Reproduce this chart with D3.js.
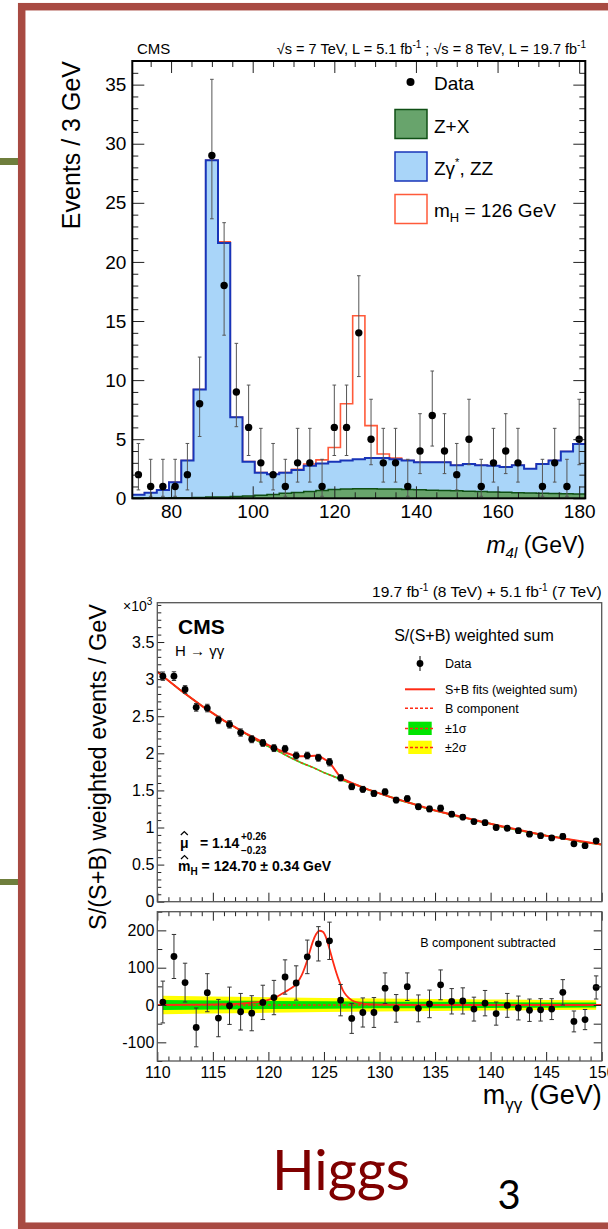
<!DOCTYPE html>
<html>
<head>
<meta charset="utf-8">
<script src="https://cdn.jsdelivr.net/npm/d3@7"></script>
<style>
  body { margin: 0; background: #fff; }
  svg { display: block; font-family: "Liberation Sans", Arial, Helvetica, sans-serif; }
</style>
</head>
<body>
<div id="chart"></div>
<script>
// ---------- H -> ZZ -> 4l (upper plot) ----------
var m4lCenters = [72, 75, 78, 81, 84, 87, 90, 93, 96, 99, 102, 105, 108, 111, 114, 117, 120, 123, 126,
  129, 132, 135, 138, 141, 144, 147, 150, 153, 156, 159, 162, 165, 168, 171, 174, 177, 180];
// stacked heights: Z+X, then Z+X + ZZ, then + signal (mH = 126)
var zxStack = [0.02, 0.02, 0.03, 0.04, 0.05, 0.07, 0.1, 0.12, 0.16, 0.2, 0.26, 0.33, 0.42, 0.5, 0.58, 0.66,
  0.74, 0.78, 0.8, 0.8, 0.79, 0.78, 0.75, 0.72, 0.69, 0.66, 0.63, 0.6, 0.57, 0.54, 0.51, 0.48, 0.45, 0.42,
  0.4, 0.38, 0.37];
var zzStack = [0.3, 0.47, 0.7, 1.35, 3.2, 9.2, 28.6, 21.6, 6.85, 3.1, 2.17, 2.03, 2.17, 2.4, 2.75, 2.95,
  3.1, 3.2, 3.3, 3.4, 3.4, 3.3, 3.2, 3.05, 3.05, 3.05, 2.8, 2.9, 2.8, 2.75, 2.65, 2.8, 2.5, 2.9, 3.2, 3.95, 4.6];
var higgsStack = [0.3, 0.47, 0.7, 1.35, 3.2, 9.2, 28.6, 21.7, 6.85, 3.1, 2.17, 2.03, 2.17, 2.45, 2.9, 3.25,
  4.3, 8.0, 15.45, 6.15, 3.75, 3.4, 3.2, 3.05, 3.05, 3.05, 2.8, 2.9, 2.8, 2.75, 2.65, 2.8, 2.5, 2.9, 3.2, 3.95, 4.6];
var zzData = [2, 1, 1, 1, 2, 8, 29, 18, 9, 6, 3, 2, 1, 3, 3, 1, 6, 6, 14, 5, 3, 3, 1, 4, 7, 4, 2, 5, 1, 3, 4, 3,
  null, 1, 3, 1, 5];
// 68% Poisson intervals for the observed counts
var poissonLo = { 1: 0.17, 2: 0.71, 3: 1.37, 4: 2.09, 5: 2.84, 6: 3.62, 7: 4.42, 8: 5.23, 9: 6.06, 14: 10.3, 18: 13.8, 29: 23.65 };
var poissonHi = { 1: 3.3, 2: 4.64, 3: 5.92, 4: 7.16, 5: 8.38, 6: 9.58, 7: 10.77, 8: 11.95, 9: 13.11, 14: 18.83, 18: 23.32, 29: 35.45 };
var m4lTicks = [80, 100, 120, 140, 160, 180];
var eventTicks = [0, 5, 10, 15, 20, 25, 30, 35];

// ---------- H -> gamma gamma (lower plot) ----------
var ggMass = [110.5, 111.5, 112.5, 113.5, 114.5, 115.5, 116.5, 117.5, 118.5, 119.5, 120.5, 121.5, 122.5, 123.5,
  124.5, 125.5, 126.5, 127.5, 128.5, 129.5, 130.5, 131.5, 132.5, 133.5, 134.5, 135.5, 136.5, 137.5, 138.5, 139.5,
  140.5, 141.5, 142.5, 143.5, 144.5, 145.5, 146.5, 147.5, 148.5, 149.5];
var ggWeighted = [3.04, 3.04, 2.86, 2.62, 2.61, 2.45, 2.39, 2.28, 2.19, 2.14, 2.07, 2.06, 1.97, 1.97, 1.94, 1.88,
  1.67, 1.55, 1.515, 1.46, 1.48, 1.37, 1.39, 1.28, 1.25, 1.26, 1.18, 1.14, 1.08, 1.065, 1.0, 0.99, 0.957, 0.91,
  0.89, 0.86, 0.88, 0.78, 0.755, 0.82];
var ggSubtracted = [8, 130, 60, -60, 33, -35, -2, -18, -22, 7, 20, 75, 59, 129, 164, 172, 13, -36, -20, -20, 45, -9,
  49, -9, 3, 54, 10, 11, -11, 5, -23, -1, -8, -14, -13, -11, 34, -44, -39, 47];
var ggErr = [56, 59, 52, 52, 51, 50, 50, 49, 47, 46, 46, 46, 46, 45, 46, 50, 42, 40, 39, 40, 41, 37, 37, 36, 37, 40,
  34, 35, 32, 34, 31, 32, 32, 30, 30, 28, 34, 28, 27, 31];
var bkgMass = [110, 111, 112, 113, 114, 115, 116, 117, 118, 119, 120, 121, 122, 123, 124, 125, 126, 127, 128, 129,
  130, 131, 132, 133, 134, 135, 136, 137, 138, 139, 140, 141, 142, 143, 144, 145, 146, 147, 148, 149, 150];
var bkgFit = [3.10, 2.98, 2.86, 2.75, 2.64, 2.54, 2.44, 2.35, 2.26, 2.17, 2.09, 2.02, 1.94, 1.87, 1.81, 1.74, 1.68,
  1.62, 1.57, 1.51, 1.46, 1.41, 1.36, 1.32, 1.27, 1.23, 1.19, 1.15, 1.12, 1.08, 1.05, 1.01, 0.98, 0.95, 0.92, 0.89,
  0.87, 0.84, 0.81, 0.79, 0.77];
var sbMass = [110, 112, 114, 116, 118, 120, 121.5, 122.5, 123.5, 124.5, 125.5, 126.5, 127.5, 129, 131, 135, 140, 145, 150];
var sbFit = [3.10, 2.86, 2.64, 2.44, 2.265, 2.11, 2.01, 1.96, 1.96, 1.97, 1.88, 1.67, 1.60, 1.51, 1.41, 1.23, 1.05, 0.89, 0.77];
var sigMass = [110, 114, 116, 117, 118, 119, 120, 120.5, 121, 121.5, 122, 122.5, 123, 123.5, 124, 124.3, 124.6,
  124.9, 125.2, 125.5, 125.8, 126.1, 126.4, 126.7, 127, 127.5, 128, 128.5, 129, 130, 135, 150];
var sigFit = [0, 1, 2, 3, 5, 8, 14, 19, 26, 35, 44, 56, 80, 120, 170, 190, 199, 196, 180, 150, 118, 88, 62, 40, 26,
  13, 7, 4, 2, 1, 0, 0];
var bandMass = [110.5, 115, 120, 125, 130, 135, 140, 145, 149.5];
var band1 = [13.5, 12, 11, 10, 9, 8.5, 7.8, 7, 6.5];
var band2 = [25, 23, 21, 19, 17.5, 16, 15, 13.5, 13];
var ggTicks = [110, 115, 120, 125, 130, 135, 140, 145, 150];
var mainTicks = [0, 0.5, 1, 1.5, 2, 2.5, 3, 3.5];
var subTicks = [-100, 0, 100, 200];

var svg = d3.select("#chart").append("svg").attr("width", 608).attr("height", 1229);

// ---------- slide decoration ----------
svg.append("rect").attr("x", 0).attr("y", 158).attr("width", 20).attr("height", 7).attr("fill", "#6f7e3c");
svg.append("rect").attr("x", 0).attr("y", 879).attr("width", 20).attr("height", 6).attr("fill", "#6f7e3c");
svg.append("rect").attr("x", 23.5).attr("y", 8.5).attr("width", 700).attr("height", 1219)
  .attr("fill", "none").attr("stroke", "#d9d9d9").attr("stroke-width", 4);
svg.append("rect").attr("x", 21.7).attr("y", 6.7).attr("width", 700).attr("height", 1219.5)
  .attr("fill", "#fff").attr("stroke", "#a84a42").attr("stroke-width", 7.5);

svg.append("text").attr("x", 341).attr("y", 1190).attr("text-anchor", "middle")
  .style("font-family", "Lato, 'Open Sans', sans-serif").attr("font-size", 56).attr("fill", "#7f0000").text("Higgs");
svg.append("text").attr("x", 509).attr("y", 1209).attr("text-anchor", "middle")
  .style("font-family", "Lato, 'Open Sans', sans-serif").attr("font-size", 40).attr("fill", "#000").text("3");

function styleAxis(g, size) {
  g.select(".domain").remove();
  g.attr("font-family", null).attr("font-size", size);
  g.selectAll("line").attr("stroke", "#222");
}

// ================= upper plot =================
var x1 = d3.scaleLinear().domain([70.5, 181.5]).range([132.3, 585.3]);
var y1 = d3.scaleLinear().domain([0, 37]).range([498.3, 61]);
var upper = svg.append("g");

function steps(vals) {
  var pts = m4lCenters.map(function(c, i) { return [c - 1.5, vals[i]]; });
  pts.push([m4lCenters[m4lCenters.length - 1] + 1.5, vals[vals.length - 1]]);
  return pts;
}
var stepLine = d3.line().x(function(d) { return x1(d[0]); }).y(function(d) { return y1(d[1]); }).curve(d3.curveStepAfter);
var stepArea = d3.area().x(function(d) { return x1(d[0]); }).y0(y1(0)).y1(function(d) { return y1(d[1]); }).curve(d3.curveStepAfter);

upper.append("path").attr("d", stepLine(steps(higgsStack))).attr("fill", "none").attr("stroke", "#ff5a3a").attr("stroke-width", 1.6);
upper.append("path").attr("d", stepArea(steps(zzStack))).attr("fill", "#a9d5f9");
upper.append("path").attr("d", stepLine(steps(zzStack))).attr("fill", "none").attr("stroke", "#1834b8").attr("stroke-width", 2);
upper.append("path").attr("d", stepArea(steps(zxStack))).attr("fill", "#68a46c");
upper.append("path").attr("d", stepLine(steps(zxStack))).attr("fill", "none").attr("stroke", "#0f4f14").attr("stroke-width", 1.5);

// data with Poisson error bars
var pts4l = m4lCenters.map(function(c, i) { return { m: c, n: zzData[i] }; }).filter(function(d) { return d.n; });
var eb = upper.append("g").attr("stroke", "#555").attr("stroke-width", 1);
pts4l.forEach(function(d) {
  var xx = x1(d.m), lo = y1(poissonLo[d.n]), hi = y1(poissonHi[d.n]);
  eb.append("line").attr("x1", xx).attr("x2", xx).attr("y1", lo).attr("y2", hi);
  eb.append("line").attr("x1", xx - 1.8).attr("x2", xx + 1.8).attr("y1", lo).attr("y2", lo);
  eb.append("line").attr("x1", xx - 1.8).attr("x2", xx + 1.8).attr("y1", hi).attr("y2", hi);
});
upper.selectAll("circle.d4l").data(pts4l).enter().append("circle").attr("class", "d4l")
  .attr("cx", function(d) { return x1(d.m); }).attr("cy", function(d) { return y1(d.n); })
  .attr("r", 3.7).attr("fill", "#000");

// axes (ticks inside on all sides)
var minorX1 = d3.range(75, 181, 5).filter(function(v) { return m4lTicks.indexOf(v) < 0; });
var minorY1 = d3.range(0, 38).filter(function(v) { return v % 5; });
upper.append("g").attr("transform", "translate(0,498.3)")
  .call(d3.axisBottom(x1).tickValues(m4lTicks).tickSizeInner(-12).tickSizeOuter(0).tickPadding(6).tickFormat(d3.format("d")))
  .call(styleAxis, 19);
upper.append("g").attr("transform", "translate(0,498.3)")
  .call(d3.axisBottom(x1).tickValues(minorX1).tickSize(-6).tickFormat("")).call(styleAxis, 19);
upper.append("g").attr("transform", "translate(0,61)")
  .call(d3.axisTop(x1).tickValues(m4lTicks).tickSize(-12).tickFormat("")).call(styleAxis, 19);
upper.append("g").attr("transform", "translate(0,61)")
  .call(d3.axisTop(x1).tickValues(minorX1).tickSize(-6).tickFormat("")).call(styleAxis, 19);
upper.append("g").attr("transform", "translate(132.3,0)")
  .call(d3.axisLeft(y1).tickValues(eventTicks).tickSizeInner(-12).tickSizeOuter(0).tickPadding(6).tickFormat(d3.format("d")))
  .call(styleAxis, 19);
upper.append("g").attr("transform", "translate(132.3,0)")
  .call(d3.axisLeft(y1).tickValues(minorY1).tickSize(-6).tickFormat("")).call(styleAxis, 19);
upper.append("g").attr("transform", "translate(585.3,0)")
  .call(d3.axisRight(y1).tickValues(eventTicks).tickSize(-12).tickFormat("")).call(styleAxis, 19);
upper.append("g").attr("transform", "translate(585.3,0)")
  .call(d3.axisRight(y1).tickValues(minorY1).tickSize(-6).tickFormat("")).call(styleAxis, 19);
upper.append("rect").attr("x", 132.3).attr("y", 61).attr("width", 453).attr("height", 437.3)
  .attr("fill", "none").attr("stroke", "#000").attr("stroke-width", 2);

// titles
upper.append("text").attr("transform", "translate(80,61) rotate(-90)").attr("text-anchor", "end")
  .attr("font-size", 25).text("Events / 3 GeV");
var xt1 = upper.append("text").attr("x", 585).attr("y", 553).attr("text-anchor", "end").attr("font-size", 23);
xt1.append("tspan").attr("font-style", "italic").text("m");
xt1.append("tspan").attr("font-style", "italic").attr("font-size", 15).attr("dy", 5).text("4l");
xt1.append("tspan").attr("dy", -5).text(" (GeV)");
upper.append("text").attr("x", 137).attr("y", 54).attr("font-size", 15).text("CMS");
var hdr1 = upper.append("text").attr("x", 586).attr("y", 54).attr("text-anchor", "end").attr("font-size", 14.5);
hdr1.append("tspan").text("\u221As = 7 TeV, L = 5.1 fb");
hdr1.append("tspan").attr("font-size", 10).attr("dy", -6).text("-1");
hdr1.append("tspan").attr("dy", 6).text(" ; \u221As = 8 TeV, L = 19.7 fb");
hdr1.append("tspan").attr("font-size", 10).attr("dy", -6).text("-1");

// legend
upper.append("circle").attr("cx", 410.5).attr("cy", 82).attr("r", 4).attr("fill", "#000");
upper.append("text").attr("x", 434).attr("y", 90).attr("font-size", 19).text("Data");
upper.append("rect").attr("x", 395).attr("y", 109.5).attr("width", 32).attr("height", 29)
  .attr("fill", "#68a46c").attr("stroke", "#0f4f14").attr("stroke-width", 1.5);
upper.append("text").attr("x", 434).attr("y", 133).attr("font-size", 19).text("Z+X");
upper.append("rect").attr("x", 395).attr("y", 152).attr("width", 32).attr("height", 29)
  .attr("fill", "#a9d5f9").attr("stroke", "#1834b8").attr("stroke-width", 1.5);
var lz = upper.append("text").attr("x", 434).attr("y", 175).attr("font-size", 19);
lz.append("tspan").text("Z\u03B3");
lz.append("tspan").attr("font-size", 11).attr("dy", -9).text("*");
lz.append("tspan").attr("dy", 9).text(", ZZ");
upper.append("rect").attr("x", 395).attr("y", 194.5).attr("width", 32).attr("height", 29)
  .attr("fill", "#fff").attr("stroke", "#ff5a3a").attr("stroke-width", 1.5);
var lh = upper.append("text").attr("x", 434).attr("y", 217).attr("font-size", 19);
lh.append("tspan").text("m");
lh.append("tspan").attr("font-size", 13).attr("dy", 5).text("H");
lh.append("tspan").attr("dy", -5).text(" = 126 GeV");

// ================= lower plot =================
var x2 = d3.scaleLinear().domain([110, 150]).range([157.3, 601.7]);
var y2 = d3.scaleLinear().domain([0, 4.03]).range([901.7, 602.7]);
var y3 = d3.scaleLinear().domain([-150, 250]).range([1061, 911.7]);
var red = "#ff2a14";
var bot = svg.append("g");

bot.append("clipPath").attr("id", "clipMain").append("rect").attr("x", 157.3).attr("y", 602.7).attr("width", 444.4).attr("height", 299);
bot.append("clipPath").attr("id", "clipSub").append("rect").attr("x", 157.3).attr("y", 911.7).attr("width", 444.4).attr("height", 149.3);

// main panel: band around B, B component, S+B fit, data
var mainG = bot.append("g").attr("clip-path", "url(#clipMain)");
mainG.append("path").datum(bkgMass)
  .attr("d", d3.area().x(function(d) { return x2(d); })
    .y0(function(d, i) { return y2(bkgFit[i] - 0.013); }).y1(function(d, i) { return y2(bkgFit[i] + 0.013); }))
  .attr("fill", "#22e622");
mainG.append("path").datum(bkgMass)
  .attr("d", d3.line().x(function(d) { return x2(d); }).y(function(d, i) { return y2(bkgFit[i]); }))
  .attr("fill", "none").attr("stroke", red).attr("stroke-width", 1.3).attr("stroke-dasharray", "3,2");
mainG.append("path").datum(sbMass)
  .attr("d", d3.line().x(function(d) { return x2(d); }).y(function(d, i) { return y2(sbFit[i]); }))
  .attr("fill", "none").attr("stroke", red).attr("stroke-width", 2);

function drawPoints(g, yScale, vals, errs) {
  var eg = g.append("g").attr("stroke", "#333").attr("stroke-width", 1);
  ggMass.forEach(function(m, i) {
    var xx = x2(m), lo = yScale(vals[i] - errs[i]), hi = yScale(vals[i] + errs[i]);
    eg.append("line").attr("x1", xx).attr("x2", xx).attr("y1", lo).attr("y2", hi);
    eg.append("line").attr("x1", xx - 2.2).attr("x2", xx + 2.2).attr("y1", lo).attr("y2", lo);
    eg.append("line").attr("x1", xx - 2.2).attr("x2", xx + 2.2).attr("y1", hi).attr("y2", hi);
  });
  g.append("g").selectAll("circle").data(ggMass).enter().append("circle")
    .attr("cx", function(d) { return x2(d); }).attr("cy", function(d, i) { return yScale(vals[i]); })
    .attr("r", 3.4).attr("fill", "#000");
}
drawPoints(mainG, y2, ggWeighted, ggErr.map(function(e) { return e / 1000; }));

// sub panel: bands, dashed B, signal
var subG = bot.append("g").attr("clip-path", "url(#clipSub)");
subG.append("path").datum(bandMass)
  .attr("d", d3.area().x(function(d) { return x2(d); })
    .y0(function(d, i) { return y3(-band2[i]); }).y1(function(d, i) { return y3(band2[i]); }))
  .attr("fill", "#ffff00");
subG.append("path").datum(bandMass)
  .attr("d", d3.area().x(function(d) { return x2(d); })
    .y0(function(d, i) { return y3(-band1[i]); }).y1(function(d, i) { return y3(band1[i]); }))
  .attr("fill", "#00e400");
subG.append("line").attr("x1", x2(110.5)).attr("x2", x2(149.5)).attr("y1", y3(0)).attr("y2", y3(0))
  .attr("stroke", red).attr("stroke-width", 1.5).attr("stroke-dasharray", "3,2");
subG.append("path").datum(sigMass)
  .attr("d", d3.line().x(function(d) { return x2(d); }).y(function(d, i) { return y3(sigFit[i]); }).curve(d3.curveMonotoneX))
  .attr("fill", "none").attr("stroke", red).attr("stroke-width", 1.8);
drawPoints(subG, y3, ggSubtracted, ggErr);

// axes of the two panels
var minorX2 = d3.range(111, 150).filter(function(v) { return v % 5; });
var minorY2 = d3.range(1, 41).map(function(v) { return v / 10; }).filter(function(v) { return mainTicks.indexOf(v) < 0; });
bot.append("g").attr("transform", "translate(0,901.7)")
  .call(d3.axisBottom(x2).tickValues(ggTicks).tickSize(-9).tickFormat("")).call(styleAxis, 16);
bot.append("g").attr("transform", "translate(0,901.7)")
  .call(d3.axisBottom(x2).tickValues(minorX2).tickSize(-4.5).tickFormat("")).call(styleAxis, 16);
bot.append("g").attr("transform", "translate(157.3,0)")
  .call(d3.axisLeft(y2).tickValues(mainTicks).tickSizeInner(-7).tickSizeOuter(0).tickPadding(3).tickFormat(d3.format("~g")))
  .call(styleAxis, 16);
bot.append("g").attr("transform", "translate(157.3,0)")
  .call(d3.axisLeft(y2).tickValues(minorY2).tickSize(-4).tickFormat("")).call(styleAxis, 16);

bot.append("g").attr("transform", "translate(0,1061)")
  .call(d3.axisBottom(x2).tickValues(ggTicks).tickSizeInner(-9).tickSizeOuter(0).tickPadding(6).tickFormat(d3.format("d")))
  .call(styleAxis, 16);
bot.append("g").attr("transform", "translate(0,1061)")
  .call(d3.axisBottom(x2).tickValues(minorX2).tickSize(-4.5).tickFormat("")).call(styleAxis, 16);
bot.append("g").attr("transform", "translate(0,911.7)")
  .call(d3.axisTop(x2).tickValues(ggTicks).tickSize(-9).tickFormat("")).call(styleAxis, 16);
bot.append("g").attr("transform", "translate(0,911.7)")
  .call(d3.axisTop(x2).tickValues(minorX2).tickSize(-4.5).tickFormat("")).call(styleAxis, 16);
bot.append("g").attr("transform", "translate(157.3,0)")
  .call(d3.axisLeft(y3).tickValues(subTicks).tickSizeInner(-9).tickSizeOuter(0).tickPadding(3).tickFormat(function(d) { return String(d); }))
  .call(styleAxis, 16);
bot.append("g").attr("transform", "translate(157.3,0)")
  .call(d3.axisLeft(y3).tickValues([-150, -50, 50, 150, 250]).tickSize(-5).tickFormat("")).call(styleAxis, 16);
bot.append("g").attr("transform", "translate(601.7,0)")
  .call(d3.axisRight(y3).tickValues([-100, -50, 0, 50, 100, 150, 200]).tickSize(-8).tickFormat("")).call(styleAxis, 16);

bot.append("rect").attr("x", 157.3).attr("y", 602.7).attr("width", 444.4).attr("height", 299)
  .attr("fill", "none").attr("stroke", "#555").attr("stroke-width", 1.3);
bot.append("rect").attr("x", 157.3).attr("y", 911.7).attr("width", 444.4).attr("height", 149.3)
  .attr("fill", "none").attr("stroke", "#555").attr("stroke-width", 1.3);

// titles and labels
bot.append("text").attr("transform", "translate(106,604) rotate(-90)").attr("text-anchor", "end")
  .attr("font-size", 23.5).text("S/(S+B) weighted events / GeV");
var xt2 = bot.append("text").attr("x", 601.7).attr("y", 1104).attr("text-anchor", "end").attr("font-size", 27);
xt2.append("tspan").text("m");
xt2.append("tspan").attr("font-size", 17).attr("dy", 6).text("\u03B3\u03B3");
xt2.append("tspan").attr("dy", -6).text(" (GeV)");
var hdr2 = bot.append("text").attr("x", 601.7).attr("y", 597).attr("text-anchor", "end").attr("font-size", 15.5);
hdr2.append("tspan").text("19.7 fb");
hdr2.append("tspan").attr("font-size", 10).attr("dy", -6).text("-1");
hdr2.append("tspan").attr("dy", 6).text(" (8 TeV) + 5.1 fb");
hdr2.append("tspan").attr("font-size", 10).attr("dy", -6).text("-1");
hdr2.append("tspan").attr("dy", 6).text(" (7 TeV)");
var e3 = bot.append("text").attr("x", 123).attr("y", 611).attr("font-size", 14);
e3.append("tspan").text("\u00D710");
e3.append("tspan").attr("font-size", 10).attr("dy", -6).text("3");
bot.append("text").attr("x", 178).attr("y", 634).attr("font-size", 21).attr("font-weight", "bold").text("CMS");
bot.append("text").attr("x", 175).attr("y", 656).attr("font-size", 15).text("H \u2192 \u03B3\u03B3");

// fitted values, hats drawn as small chevrons over the symbols
var hat = function(cx, cy) {
  bot.append("path").attr("d", "M" + (cx - 3.5) + "," + cy + " L" + cx + "," + (cy - 3.5) + " L" + (cx + 3.5) + "," + cy)
    .attr("fill", "none").attr("stroke", "#000").attr("stroke-width", 1.2);
};
bot.append("text").attr("x", 180).attr("y", 848).attr("font-size", 14).attr("font-weight", "bold").text("\u03BC");
hat(184.3, 835);
bot.append("text").attr("x", 200).attr("y", 848).attr("font-size", 14).attr("font-weight", "bold").text("= 1.14");
bot.append("text").attr("x", 241).attr("y", 840).attr("font-size", 10).attr("font-weight", "bold").text("+0.26");
bot.append("text").attr("x", 241).attr("y", 854).attr("font-size", 10).attr("font-weight", "bold").text("\u22120.23");
var mh = bot.append("text").attr("x", 178).attr("y", 871).attr("font-size", 14).attr("font-weight", "bold");
mh.append("tspan").text("m");
mh.append("tspan").attr("font-size", 10).attr("dy", 4).text("H");
mh.append("tspan").attr("dy", -4).text(" = 124.70 \u00B1 0.34 GeV");
hat(184.5, 859);
bot.append("text").attr("x", 488).attr("y", 946.5).attr("text-anchor", "middle").attr("font-size", 12.5).text("B component subtracted");

// legend
bot.append("text").attr("x", 474).attr("y", 641).attr("text-anchor", "middle").attr("font-size", 16).text("S/(S+B) weighted sum");
bot.append("line").attr("x1", 420).attr("x2", 420).attr("y1", 656).attr("y2", 671).attr("stroke", "#000");
bot.append("circle").attr("cx", 420).attr("cy", 663.5).attr("r", 3.4).attr("fill", "#000");
bot.append("line").attr("x1", 405).attr("x2", 435).attr("y1", 689.3).attr("y2", 689.3).attr("stroke", red).attr("stroke-width", 2);
bot.append("line").attr("x1", 405).attr("x2", 435).attr("y1", 708.3).attr("y2", 708.3).attr("stroke", red).attr("stroke-width", 1.5).attr("stroke-dasharray", "3,2");
bot.append("rect").attr("x", 408.3).attr("y", 721.7).attr("width", 23.4).attr("height", 13.3).attr("fill", "#00e400");
bot.append("line").attr("x1", 405).attr("x2", 435).attr("y1", 728.4).attr("y2", 728.4).attr("stroke", red).attr("stroke-width", 1.5).attr("stroke-dasharray", "3,2");
bot.append("rect").attr("x", 408.3).attr("y", 740.7).attr("width", 23.4).attr("height", 13.3).attr("fill", "#ffff00");
bot.append("line").attr("x1", 405).attr("x2", 435).attr("y1", 747.4).attr("y2", 747.4).attr("stroke", red).attr("stroke-width", 1.5).attr("stroke-dasharray", "3,2");
var legTxt = ["Data", "S+B fits (weighted sum)", "B component", "\u00B11\u03C3", "\u00B12\u03C3"];
var legY = [663.5, 689.3, 708.3, 728.4, 747.4];
legTxt.forEach(function(t, i) {
  bot.append("text").attr("x", 445).attr("y", legY[i]).attr("dy", "0.35em").attr("font-size", 12.5).text(t);
});
</script>
</body>
</html>
